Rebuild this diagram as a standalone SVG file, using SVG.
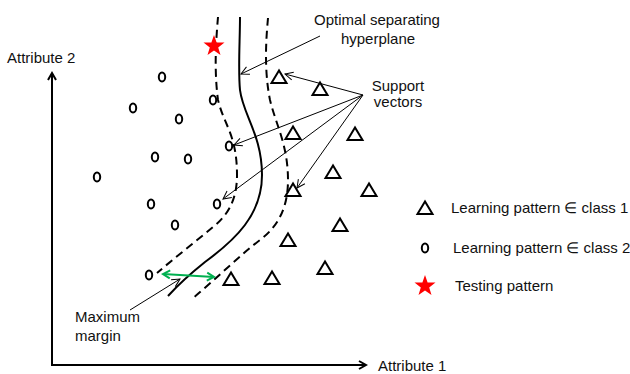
<svg xmlns="http://www.w3.org/2000/svg" width="630" height="374" viewBox="0 0 630 374">
<style>
text{font-family:"Liberation Sans",Arial,sans-serif;font-size:15px;fill:#111}
.tri{fill:none;stroke:#000;stroke-width:2;stroke-linejoin:miter}
.cir{fill:none;stroke:#000;stroke-width:2}
.star{fill:#ff0000;stroke:none}
.solid{fill:none;stroke:#000;stroke-width:2}
.dash{fill:none;stroke:#000;stroke-width:2;stroke-dasharray:8 5}
.thin{fill:none;stroke:#000;stroke-width:1;marker-end:url(#ah)}
.axis{fill:none;stroke:#000;stroke-width:2;marker-end:url(#axh)}
.green{fill:none;stroke:#00b050;stroke-width:2;marker-start:url(#gs);marker-end:url(#ge)}
</style>
<defs>
<path id="t" d="M0,-6.5 L-7.5,6 L7.5,6 Z"/>
<path id="s" d="M0,-11 L2.6,-3.6 L10.5,-3.4 L4.2,1.4 L6.5,8.9 L0,4.4 L-6.5,8.9 L-4.2,1.4 L-10.5,-3.4 L-2.6,-3.6 Z"/>
<marker id="ah" markerWidth="10" markerHeight="10" refX="9" refY="5" orient="auto" markerUnits="userSpaceOnUse">
<path d="M1,1 L9,5 L1,9" fill="none" stroke="#000" stroke-width="1"/>
</marker>
<marker id="axh" markerWidth="12" markerHeight="12" refX="10" refY="6" orient="auto" markerUnits="userSpaceOnUse">
<path d="M3,2 L10,6 L3,10" fill="none" stroke="#000" stroke-width="2"/>
</marker>
<marker id="ge" markerWidth="12" markerHeight="12" refX="10" refY="6" orient="auto" markerUnits="userSpaceOnUse">
<path d="M3,2 L10,6 L3,10" fill="none" stroke="#00b050" stroke-width="2"/>
</marker>
<marker id="gs" markerWidth="12" markerHeight="12" refX="2" refY="6" orient="auto" markerUnits="userSpaceOnUse">
<path d="M9,2 L2,6 L9,10" fill="none" stroke="#00b050" stroke-width="2"/>
</marker>
</defs>
<rect width="630" height="374" fill="#fff"/>

<g id="axes">
<path class="axis" d="M52,365 L52,73"/>
<path class="axis" d="M51,365 L366,365"/>
<text x="7" y="63">Attribute 2</text>
<text x="378" y="371">Attribute 1</text>
</g>

<g id="hyperplanes">
<path class="solid" d="M240,17 C240,40 238,70 240,90 C243,115 262,135 262,175 C262,215 235,240 205,262 C190,274 178,285 168,296"/>
<path class="dash" d="M218,17 C216,40 214,70 218,100 C224,125 237,135 237,175 C237,200 228,215 213,227 C195,242 172,260 157,273"/>
<path class="dash" d="M268,18 C266,40 264,70 270,100 C276,125 288,145 288,180 C288,205 280,225 260,240 C240,255 215,280 193,298"/>
</g>

<g id="class1">
<use href="#t" class="tri" x="279" y="77"/>
<use href="#t" class="tri" x="320" y="89"/>
<use href="#t" class="tri" x="293" y="133"/>
<use href="#t" class="tri" x="355" y="134"/>
<use href="#t" class="tri" x="333" y="172"/>
<use href="#t" class="tri" x="369" y="190"/>
<use href="#t" class="tri" x="293" y="190"/>
<use href="#t" class="tri" x="340" y="225"/>
<use href="#t" class="tri" x="288" y="240"/>
<use href="#t" class="tri" x="325" y="268"/>
<use href="#t" class="tri" x="272" y="278"/>
<use href="#t" class="tri" x="231" y="279"/>
</g>

<g id="class2">
<ellipse class="cir" cx="162" cy="77" rx="3.2" ry="4.5"/>
<ellipse class="cir" cx="133" cy="108" rx="3.2" ry="4.5"/>
<ellipse class="cir" cx="213" cy="100" rx="3.2" ry="4.5"/>
<ellipse class="cir" cx="179" cy="119" rx="3.2" ry="4.5"/>
<ellipse class="cir" cx="229" cy="146" rx="3.2" ry="4.5"/>
<ellipse class="cir" cx="155" cy="157" rx="3.2" ry="4.5"/>
<ellipse class="cir" cx="188" cy="159" rx="3.2" ry="4.5"/>
<ellipse class="cir" cx="97" cy="177" rx="3.2" ry="4.5"/>
<ellipse class="cir" cx="151" cy="204" rx="3.2" ry="4.5"/>
<ellipse class="cir" cx="217" cy="204" rx="3.2" ry="4.5"/>
<ellipse class="cir" cx="175" cy="225" rx="3.2" ry="4.5"/>
<ellipse class="cir" cx="149" cy="275" rx="3.2" ry="4.5"/>
</g>

<g id="testing-star">
<use href="#s" class="star" x="214" y="46"/>
</g>

<g id="connectors">
<path class="thin" d="M320,36 L241,74"/>
<path class="thin" d="M363,95 L285,74"/>
<path class="thin" d="M363,95 L234,145"/>
<path class="thin" d="M363,95 L223,199"/>
<path class="thin" d="M363,95 L297,188"/>
<path class="thin" d="M130,310 L180,279"/>
<path class="green" d="M163,274 L214,277"/>
</g>

<g id="label-hyperplane">
<text x="377" y="25" text-anchor="middle">Optimal separating</text>
<text x="378" y="44" text-anchor="middle">hyperplane</text>
</g>
<g id="label-support">
<text x="398" y="91" text-anchor="middle">Support</text>
<text x="398" y="107" text-anchor="middle">vectors</text>
</g>
<g id="label-margin">
<text x="75" y="322">Maximum</text>
<text x="75" y="341">margin</text>
</g>

<g id="legend">
<use href="#t" class="tri" x="425" y="208"/>
<text x="451" y="213">Learning pattern ∈ class 1</text>
<ellipse class="cir" cx="425" cy="248" rx="3.2" ry="4.5"/>
<text x="453" y="253">Learning pattern ∈ class 2</text>
<use href="#s" class="star" x="425" y="286"/>
<text x="455" y="291">Testing pattern</text>
</g>
</svg>
